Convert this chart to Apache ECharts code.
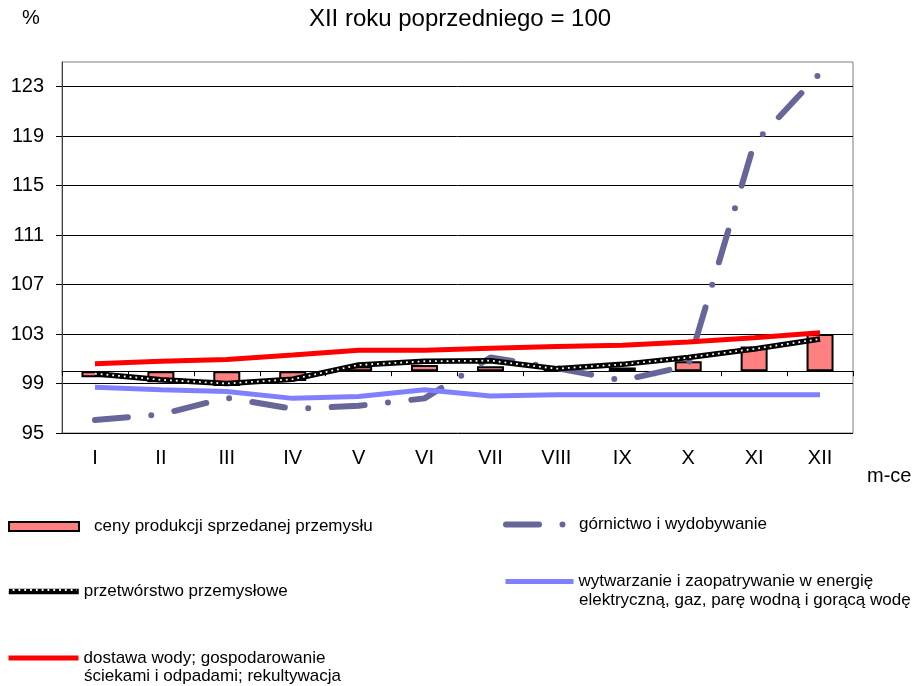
<!DOCTYPE html>
<html>
<head>
<meta charset="utf-8">
<script src="https://cdn.jsdelivr.net/npm/echarts@6/dist/echarts.min.js"></script>
<style>html,body{margin:0;padding:0;background:#fff}#c{width:920px;height:686px}</style>
</head>
<body>
<div id="c"></div>
<script>
// ---- data ----
const months = ['I', 'II', 'III', 'IV', 'V', 'VI', 'VII', 'VIII', 'IX', 'X', 'XI', 'XII'];
const yTicks = [95, 99, 103, 107, 111, 115, 119, 123];
const ceny = [99.5, 99.1, 98.8, 99.2, 100.4, 100.5, 100.4, 100.1, 100.3, 100.8, 102.0, 103.0];
const gornictwo = [96.05, 96.5, 97.85, 96.95, 97.2, 97.8, 101.1, 100.25, 99.25, 100.45, 118.4, 124.1];
const przetworstwo = [99.8, 99.3, 99.0, 99.35, 100.5, 100.8, 100.85, 100.2, 100.55, 101.1, 101.8, 102.6];
const wytwarzanie = [98.7, 98.5, 98.35, 97.8, 97.95, 98.5, 98.0, 98.1, 98.1, 98.1, 98.1, 98.1];
const dostawa = [100.6, 100.8, 100.95, 101.3, 101.7, 101.7, 101.85, 102.0, 102.1, 102.35, 102.7, 103.1];
const BASE = 100;
const Y_MIN = 95, Y_MAX = 125;

const N1 = 'ceny produkcji sprzedanej przemysłu';
const N2 = 'górnictwo i wydobywanie';
const N3 = 'przetwórstwo przemysłowe';
const N3b = 'przetwórstwo przemysłowe (kropki)';
const N4 = 'wytwarzanie i zaopatrywanie w energię elektryczną, gaz, parę wodną i gorącą wodę';
const N5 = 'dostawa wody; gospodarowanie ściekami i odpadami; rekultywacja';
const N4lines = ['wytwarzanie i zaopatrywanie w energię', 'elektryczną, gaz, parę wodną i gorącą wodę'];
const N5lines = ['dostawa wody; gospodarowanie', 'ściekami i odpadami; rekultywacja'];

// ---- layout ----
const FONT = '"Liberation Sans", Arial, sans-serif';
const W = 920, H = 686;
const G = {left: 62, right: 67, top: 62, bottom: 253};
const gridH = H - G.top - G.bottom;
const axisOffset = -(BASE - Y_MIN) / (Y_MAX - Y_MIN) * gridH; // x axis drawn at the 100 line
const labelCenterBelowGrid = 25;
const xFont = 20;
const labelMargin = -axisOffset + labelCenterBelowGrid - xFont / 2;
const LEG_FONT = 17, LEG_LH = 20;
const leftIconX = 6, rightIconX = 503, iconW = 70, iconWR = 68;
const TEXT_GAP = 8;

const chart = echarts.init(document.getElementById('c'), null, {renderer: 'canvas'});

const legendBase = {
  orient: 'horizontal', padding: 0, itemGap: 0, itemWidth: iconW, selectedMode: false,
  textStyle: {fontSize: LEG_FONT, color: '#000', fontFamily: FONT},
  lineStyle: {width: 'inherit'},
  itemStyle: {opacity: 0}
};
function lg(extra) { return Object.assign({}, legendBase, extra, {textStyle: Object.assign({}, legendBase.textStyle, extra.textStyle || {})}); }

const option = {
  animation: false,
  backgroundColor: '#fff',
  title: {
    text: 'XII roku poprzedniego = 100', left: 'center', top: 2,
    textStyle: {fontSize: 24, fontWeight: 'normal', color: '#000', fontFamily: FONT}
  },
  graphic: [
    {type: 'text', left: 22, top: 8, style: {text: '%', fill: '#000', font: '20px ' + FONT}},
    {type: 'text', left: 867, top: 466, style: {text: 'm-ce', fill: '#000', font: '20px ' + FONT}},
    {type: 'text', x: leftIconX + iconW + TEXT_GAP, y: 656.5 + LEG_LH, style: {text: N5lines[1], fill: '#000', font: LEG_FONT + 'px ' + FONT, verticalAlign: 'middle'}},
    {type: 'text', x: rightIconX + iconWR + TEXT_GAP, y: 580 + LEG_LH, style: {text: N4lines[1], fill: '#000', font: LEG_FONT + 'px ' + FONT, verticalAlign: 'middle'}}
  ],
  grid: {left: G.left, right: G.right, top: G.top, bottom: G.bottom, show: true, borderColor: '#7f7f7f', borderWidth: 1, backgroundColor: '#fff'},
  xAxis: {
    type: 'category', data: months, boundaryGap: true, offset: axisOffset,
    axisLine: {show: true, onZero: false, lineStyle: {color: '#000', width: 1}},
    axisTick: {show: true, length: 5, lineStyle: {color: '#000'}},
    axisLabel: {margin: labelMargin, fontSize: xFont, color: '#000', fontFamily: FONT},
    splitLine: {show: false}
  },
  yAxis: {
    type: 'value', min: Y_MIN, max: Y_MAX,
    axisLine: {show: true, lineStyle: {color: '#404040', width: 1}},
    axisTick: {show: true, length: 6, customValues: yTicks, lineStyle: {color: '#000'}},
    axisLabel: {customValues: yTicks, fontSize: 20, margin: 18, color: '#000', fontFamily: FONT},
    splitLine: {show: true, lineStyle: {color: '#000', width: 1}}
  },
  legend: [
    lg({data: [{name: N1, icon: 'rect'}], left: leftIconX + 2, top: 518, itemHeight: 9, itemStyle: {}, textStyle: {padding: [0, 0, 0, 10]}}),
    lg({data: [N3], left: leftIconX, top: 583, itemHeight: 14}),
    lg({data: [N3b], left: leftIconX, top: 583, itemHeight: 14, formatter: () => '', z: 10}),
    lg({data: [N5], left: leftIconX, top: 649.5, itemHeight: 14, formatter: () => N5lines[0]}),
    lg({data: [N2], left: rightIconX, top: 516, itemHeight: 14, itemWidth: iconWR}),
    lg({data: [N4], left: rightIconX, top: 573, itemHeight: 14, itemWidth: iconWR, formatter: () => N4lines[0]})
  ],
  series: [
    {
      name: '_base', type: 'bar', stack: 'ceny', barWidth: 27, silent: true,
      data: ceny.map(v => Math.min(v, BASE)),
      itemStyle: {color: 'rgba(0,0,0,0)', borderWidth: 0}
    },
    {
      name: N1, type: 'bar', stack: 'ceny', barWidth: 27,
      data: ceny.map(v => Math.abs(v - BASE)),
      itemStyle: {color: '#FF8080', borderColor: '#000', borderWidth: 2}
    },
    {
      name: N2, type: 'line', data: gornictwo, symbol: 'none',
      lineStyle: {color: '#666699', width: 6, type: [33, 23.5, 0, 23.5], cap: 'round'},
      itemStyle: {color: '#666699'}
    },
    {
      name: N3, type: 'line', data: przetworstwo, symbol: 'none',
      lineStyle: {color: '#000', width: 5.5},
      itemStyle: {color: '#000'}
    },
    {
      name: N3b, type: 'line', data: przetworstwo, symbol: 'none',
      lineStyle: {color: '#fff', width: 1.8, type: [1.8, 4]},
      itemStyle: {color: '#fff'}
    },
    {
      name: N4, type: 'line', data: wytwarzanie, symbol: 'none',
      lineStyle: {color: '#8080FF', width: 5},
      itemStyle: {color: '#8080FF'}
    },
    {
      name: N5, type: 'line', data: dostawa, symbol: 'none',
      lineStyle: {color: '#FF0000', width: 5},
      itemStyle: {color: '#FF0000'}
    }
  ]
};
chart.setOption(option);
</script>
</body>
</html>
